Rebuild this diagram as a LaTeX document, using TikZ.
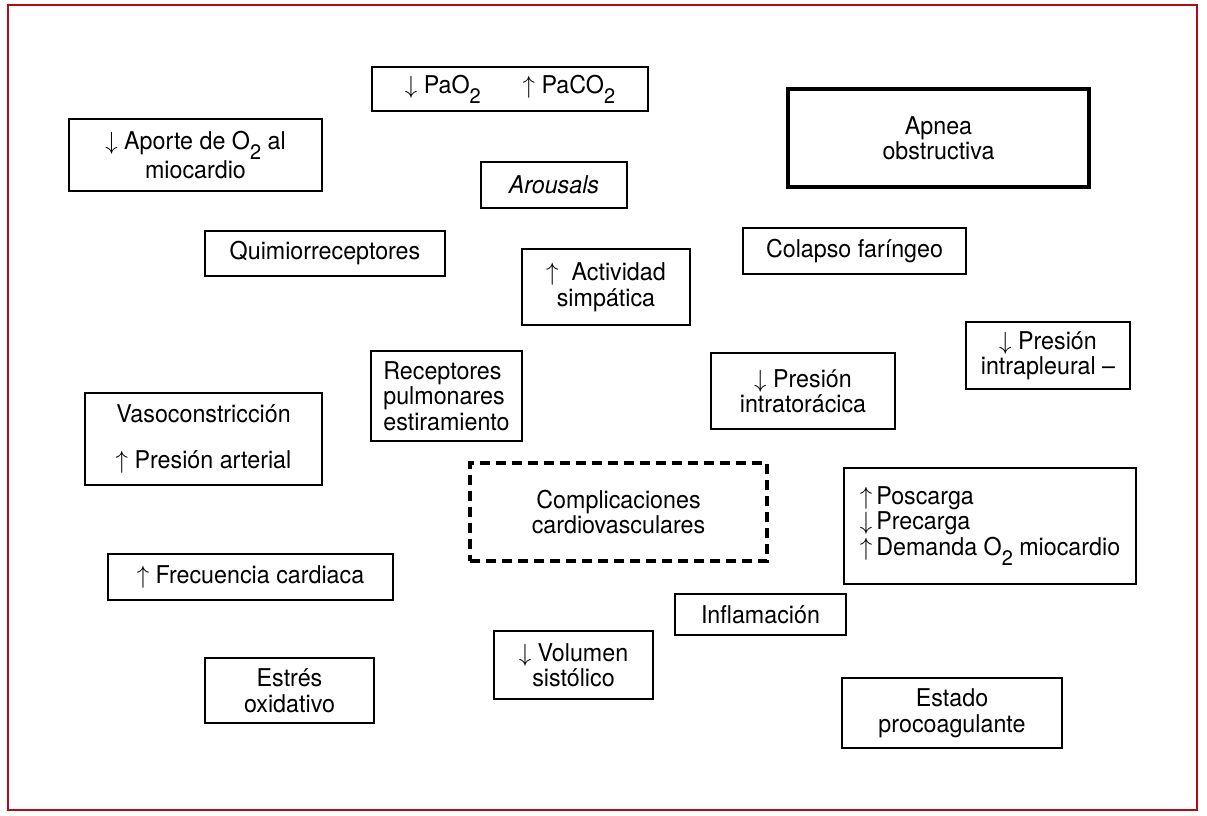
\documentclass[tikz,border=0pt]{standalone}
\usepackage{fontspec}
\setmainfont{TeX Gyre Heros}[FakeStretch=0.95]
\usepackage{tikz}
\definecolor{framered}{RGB}{178,12,24}
\newcommand{\lowtwo}{\raisebox{-10pt}{\fontsize{21}{21}\selectfont 2}}
\newcommand{\up}{$\uparrow$}
\newcommand{\dn}{$\downarrow$}

\begin{document}
\begin{tikzpicture}[x=1pt,y=-1pt,
  box/.style={draw,line width=1.7pt,inner sep=0pt,align=center,
    font=\fontsize{24.5}{25.5}\selectfont},
  thickbox/.style={box,line width=3.6pt},
  dashbox/.style={box,line width=3.4pt,dash pattern=on 10pt off 6pt}]
\useasboundingbox (0,0) rectangle (1207,815);
\draw[framered,line width=2.5pt] (8,5) rectangle (1197,810);
\node[box,minimum width=276pt,minimum height=44pt] (gases) at (510,89) {\dn\ PaO\lowtwo\hspace{42pt}\up\ PaCO\lowtwo};
\node[box,minimum width=253pt,minimum height=72pt] (aporte) at (195.5,155) {\dn\ Aporte de O\lowtwo\ al\\miocardio};
\node[box,minimum width=146pt,minimum height=46pt] (arousals) at (554,185) {\itshape Arousals};
\node[thickbox,minimum width=301pt,minimum height=98pt] (apnea) at (938.5,138) {Apnea\\obstructiva};
\node[box,minimum width=240pt,minimum height=45pt] (quimio) at (325,253.5) {Quimiorreceptores};
\node[box,minimum width=168pt,minimum height=76pt] (simpatica) at (606,287) {\up\ \ Actividad\\simpática};
\node[box,minimum width=223pt,minimum height=46pt] (colapso) at (854.5,251) {Colapso faríngeo};
\node[box,minimum width=164pt,minimum height=67pt] (intrapleural) at (1048,355.5) {\dn\ Presión\\intrapleural --};
\node[box,align=left,minimum width=151pt,minimum height=90pt] (receptores) at (446.5,396) {Receptores\\pulmonares\\estiramiento};
\node[box,minimum width=184pt,minimum height=76pt] (intratoracica) at (803,391) {\dn\ Presión\\intratorácica};
\node[box,minimum width=237pt,minimum height=92pt] (vaso) at (203.5,439) {Vasoconstricción\\[20pt]\up\ Presión arterial};
\node[dashbox,minimum width=297pt,minimum height=98pt] (complicaciones) at (618.5,512) {Complicaciones\\cardiovasculares};
\node[box,align=left,minimum width=292pt,minimum height=116pt] (poscarga) at (990,526) {\up\,Poscarga\\\dn\,Precarga\\\up\,Demanda O\lowtwo\ miocardio};
\node[box,minimum width=285pt,minimum height=46pt] (frecuencia) at (250.5,577) {\up\ Frecuencia cardiaca};
\node[box,minimum width=171pt,minimum height=41pt] (inflamacion) at (760.5,614.5) {Inflamación};
\node[box,minimum width=159pt,minimum height=68pt] (volumen) at (573.5,665) {\dn\ Volumen\\sistólico};
\node[box,minimum width=169pt,minimum height=65pt] (estres) at (289.5,690.5) {Estrés\\oxidativo};
\node[box,minimum width=220pt,minimum height=70pt] (procoagulante) at (952,713) {Estado\\procoagulante};
\end{tikzpicture}
\end{document}
